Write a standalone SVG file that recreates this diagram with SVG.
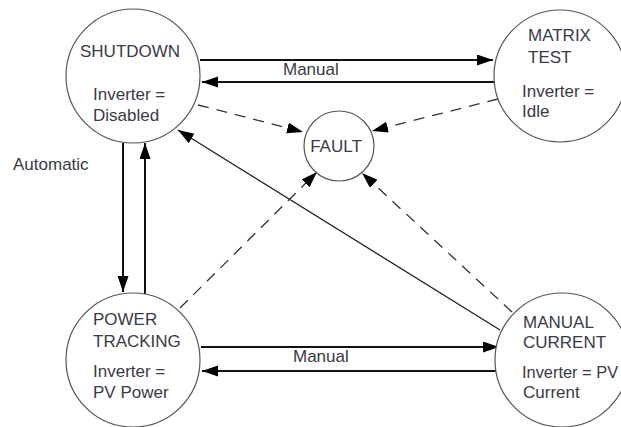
<svg xmlns="http://www.w3.org/2000/svg" width="621" height="427" viewBox="0 0 621 427">
<style>
.node{fill:#fff;stroke:#555;stroke-width:1.2}
.t{font-family:"Liberation Sans",Arial,sans-serif;font-size:17px;fill:#3a3a48}
.thick{stroke:#111;stroke-width:2;fill:none}
.thin{stroke:#222;stroke-width:1.3;fill:none}
.dash{stroke:#333;stroke-width:1.3;fill:none;stroke-dasharray:11 8}
</style>
<defs>
<marker id="ah" markerUnits="userSpaceOnUse" markerWidth="17" markerHeight="12" refX="16" refY="5.5" orient="auto">
<path d="M0,0 L16,5.5 L0,11 z" fill="#000" stroke="none"/>
</marker>
</defs>
<rect width="621" height="427" fill="#fff"/>
<g id="connectors">
<line class="thick" x1="200" y1="60" x2="493" y2="60" marker-end="url(#ah)"/>
<line class="thick" x1="496" y1="82" x2="202" y2="82" marker-end="url(#ah)"/>
<line class="thick" x1="123" y1="143" x2="123" y2="292" marker-end="url(#ah)"/>
<line class="thick" x1="145" y1="297" x2="145" y2="143" marker-end="url(#ah)"/>
<line class="thick" x1="201" y1="347" x2="499" y2="347" marker-end="url(#ah)"/>
<line class="thick" x1="500" y1="371" x2="202" y2="371" marker-end="url(#ah)"/>
<line class="thin" x1="500" y1="330" x2="178" y2="130" marker-end="url(#ah)"/>
<line class="dash" x1="198" y1="105" x2="303" y2="132" marker-end="url(#ah)"/>
<line class="dash" x1="498" y1="99" x2="372" y2="131" marker-end="url(#ah)"/>
<line class="dash" x1="180" y1="308" x2="317" y2="172" marker-end="url(#ah)"/>
<line class="dash" x1="512" y1="312" x2="362" y2="173" marker-end="url(#ah)"/>
<text class="t" x="283" y="75">Manual</text>
<text class="t" x="293" y="362">Manual</text>
<text class="t" x="13" y="170">Automatic</text>
</g>
<g id="shutdown">
<circle class="node" cx="133" cy="76" r="67"/>
<text class="t" x="80" y="57">SHUTDOWN</text>
<text class="t" x="93" y="100">Inverter =</text>
<text class="t" x="93" y="121">Disabled</text>
</g>
<g id="matrix-test">
<circle class="node" cx="560" cy="76" r="66"/>
<text class="t" x="528" y="41">MATRIX</text>
<text class="t" x="528" y="63">TEST</text>
<text class="t" x="522" y="97">Inverter =</text>
<text class="t" x="522" y="117">Idle</text>
</g>
<g id="fault">
<circle class="node" cx="339" cy="146" r="35"/>
<text class="t" x="336" y="152" text-anchor="middle">FAULT</text>
</g>
<g id="power-tracking">
<circle class="node" cx="133" cy="360" r="67"/>
<text class="t" x="93" y="325">POWER</text>
<text class="t" x="93" y="347">TRACKING</text>
<text class="t" x="93" y="377">Inverter =</text>
<text class="t" x="93" y="398">PV Power</text>
</g>
<g id="manual-current">
<circle class="node" cx="562" cy="360" r="67"/>
<text class="t" x="523" y="328">MANUAL</text>
<text class="t" x="523" y="348">CURRENT</text>
<text class="t" x="522" y="378" style="font-size:16.4px">Inverter = PV</text>
<text class="t" x="523" y="398">Current</text>
</g>
</svg>
